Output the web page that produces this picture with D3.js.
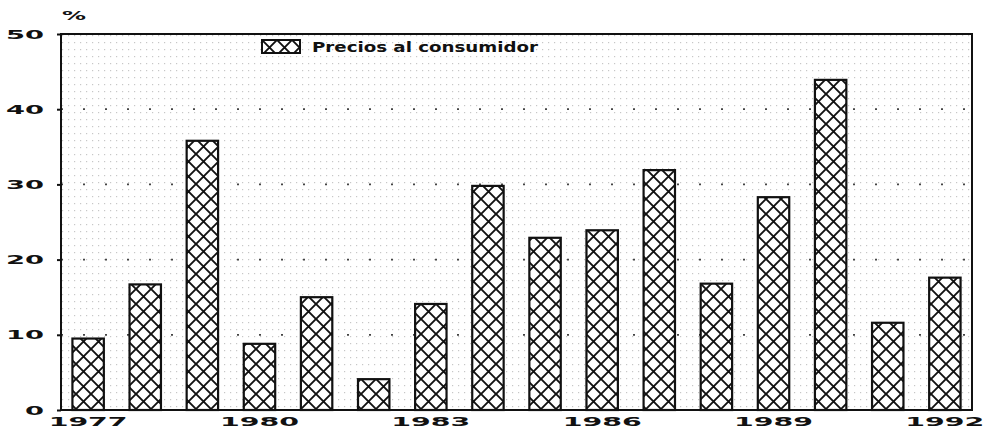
<!DOCTYPE html>
<html>
<head>
<meta charset="utf-8">
<script src="https://cdn.jsdelivr.net/npm/d3@7"></script>
<style>
  body { margin: 0; background: #fff; }
  text { font-family: "DejaVu Sans", sans-serif; font-weight: bold; fill: #111; }
</style>
</head>
<body>
<div id="chart"></div>
<script>
// Width and height
var chart_width  = 993;
var chart_height = 434;
var margin = { top: 34, right: 21, bottom: 24, left: 61 };
var plot_w = chart_width - margin.left - margin.right;
var plot_h = chart_height - margin.top - margin.bottom;

// Data
var years   = ['1977','1978','1979','1980','1981','1982','1983','1984',
               '1985','1986','1987','1988','1989','1990','1991','1992'];
var precios = [9.5, 16.7, 35.8, 8.8, 15.0, 4.1, 14.1, 29.8,
               22.9, 23.9, 31.9, 16.8, 28.3, 43.9, 11.6, 17.6];
var yTicks  = [0, 10, 20, 30, 40, 50];
var xLabels = ['1977','1980','1983','1986','1989','1992'];
var seriesName = 'Precios al consumidor';

var svg = d3.select('#chart').append('svg')
    .attr('width', chart_width)
    .attr('height', chart_height);

var defs = svg.append('defs');

// background dots
var dots = defs.append('pattern')
    .attr('id', 'dots')
    .attr('patternUnits', 'userSpaceOnUse')
    .attr('width', 6).attr('height', 7);
dots.append('rect').attr('x', 1).attr('y', 1).attr('width', 1.2).attr('height', 1.2).attr('fill', '#9a9a9a');

// cross hatch for bars
var hatch = defs.append('pattern')
    .attr('id', 'hatch')
    .attr('patternUnits', 'userSpaceOnUse')
    .attr('width', 15).attr('height', 15);
hatch.append('rect').attr('width', 15).attr('height', 15).attr('fill', '#fff');
hatch.append('path').attr('d', 'M-1,-1L16,16M16,-1L-1,16')
    .attr('stroke', '#111').attr('stroke-width', 1.9);

var g = svg.append('g')
    .attr('transform', 'translate(' + margin.left + ',' + margin.top + ')');

var x = d3.scaleBand().domain(years).range([0, plot_w]).paddingInner(0.45).paddingOuter(0.2);
var y = d3.scaleLinear().domain([0, 50]).range([plot_h, 0]);

// dotted background
g.append('rect')
    .attr('width', plot_w).attr('height', plot_h)
    .attr('fill', 'url(#dots)').attr('opacity', 0.55);

// grid
g.selectAll('.grid')
    .data(yTicks.filter(function(d){ return d > 0 && d < 50; }))
    .enter().append('line')
    .attr('x1', 0).attr('x2', plot_w)
    .attr('y1', function(d){ return y(d); })
    .attr('y2', function(d){ return y(d); })
    .attr('stroke', '#444').attr('stroke-width', 1.8)
    .attr('stroke-dasharray', '2,20');

// bars
g.selectAll('.bar')
    .data(precios)
    .enter().append('rect')
    .attr('x', function(d, i){ return x(years[i]); })
    .attr('y', function(d){ return y(d); })
    .attr('width', x.bandwidth())
    .attr('height', function(d){ return plot_h - y(d); })
    .attr('fill', 'url(#hatch)')
    .attr('stroke', '#111').attr('stroke-width', 2.2);

// frame
g.append('rect')
    .attr('width', plot_w).attr('height', plot_h)
    .attr('fill', 'none').attr('stroke', '#111').attr('stroke-width', 2);

// y axis
var yAxis = d3.axisLeft(y).tickValues(yTicks).tickSize(4).tickPadding(13);
var ya = g.append('g').call(yAxis);
ya.select('.domain').remove();
ya.selectAll('line').attr('stroke', '#111').attr('stroke-width', 2);
ya.selectAll('text')
    .style('font-size', '13px')
    .attr('textLength', function(d){ return String(d).length * 19; })
    .attr('lengthAdjust', 'spacingAndGlyphs');

// x axis
var xAxis = d3.axisBottom(x).tickValues(xLabels).tickSize(0).tickPadding(7);
var xa = g.append('g').attr('transform', 'translate(0,' + plot_h + ')').call(xAxis);
xa.select('.domain').remove();
xa.selectAll('text')
    .style('font-size', '12px')
    .attr('textLength', 79)
    .attr('lengthAdjust', 'spacingAndGlyphs');

// unit
svg.append('text')
    .attr('x', 62).attr('y', 20)
    .style('font-size', '13px')
    .attr('textLength', 24).attr('lengthAdjust', 'spacingAndGlyphs')
    .text('%');

// legend
var legend = svg.append('g').attr('transform', 'translate(262,40)');
legend.append('rect')
    .attr('width', 38).attr('height', 13)
    .attr('fill', 'url(#hatch)')
    .attr('stroke', '#111').attr('stroke-width', 2);
legend.append('text')
    .attr('x', 50).attr('y', 12)
    .style('font-size', '14px')
    .attr('textLength', 226).attr('lengthAdjust', 'spacingAndGlyphs')
    .text(seriesName);
</script>
</body>
</html>
